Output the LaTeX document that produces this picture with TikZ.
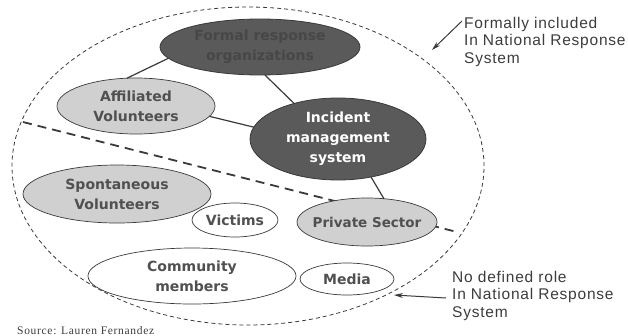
\documentclass[tikz,border=0pt]{standalone}
\usepackage{fontspec}
\setmainfont{Liberation Sans}
\newfontfamily\nodefont{DejaVu Sans}
\newfontfamily\sidefont{Liberation Sans}[LetterSpace=5]
\newfontfamily\srcfont{Liberation Serif}[LetterSpace=6]
\usetikzlibrary{shapes.geometric,arrows.meta}
\definecolor{darkfill}{HTML}{5A5A5A}
\definecolor{darktext}{HTML}{474747}
\definecolor{lightfill}{HTML}{D0D0D0}
\definecolor{lighttext}{HTML}{505050}
\definecolor{edgegray}{HTML}{3A3A3A}
\definecolor{labeltext}{HTML}{3C3C3C}
\tikzset{
  ell/.style={ellipse, inner sep=0pt, outer sep=0pt},
  darkell/.style={ell, fill=darkfill, draw=edgegray, line width=0.8pt},
  lightell/.style={ell, fill=lightfill, draw=edgegray, line width=0.7pt},
  whiteell/.style={ell, fill=white, draw=edgegray, line width=0.7pt},
  ntxt/.style={inner sep=0pt, align=center, font=\nodefont\bfseries\fontsize{14}{20}\selectfont},
  conn/.style={draw=edgegray, line width=1.2pt},
  side/.style={inner sep=0pt, align=left, anchor=north west, text=labeltext,
               font=\sidefont\fontsize{15.5}{17.5}\selectfont},
  pointer/.style={draw=edgegray, line width=1pt, -{Stealth[length=9pt,width=5pt]}},
}
\begin{document}
\begin{tikzpicture}[x=1pt,y=-1pt]
\useasboundingbox (0,0) rectangle (628,335);
\begin{scope}
\clip (0,0) rectangle (628,335);
% outer boundary
\node[ell, draw=edgegray, line width=0.8pt, dash pattern=on 4pt off 3pt,
      minimum width=472pt, minimum height=318pt] (outer) at (248,166) {};
% separator
\coordinate (s1) at (23,122);
\coordinate (s2) at (457,232);
\draw[draw=edgegray, line width=1.8pt, dash pattern=on 9pt off 6pt] (s1) -- (s2);

% ellipses
\node[darkell, minimum width=200pt, minimum height=56pt] (fro) at (260,47) {};
\node[lightell, minimum width=158pt, minimum height=56pt] (aff) at (136,106) {};
\node[darkell, minimum width=176pt, minimum height=82pt] (ims) at (338,139) {};
\node[lightell, minimum width=188pt, minimum height=58pt] (spv) at (117,194) {};
\node[whiteell, minimum width=86pt, minimum height=34pt] (vic) at (235,220) {};
\node[lightell, minimum width=140pt, minimum height=48pt] (prs) at (367,222) {};
\node[whiteell, minimum width=208pt, minimum height=56pt] (com) at (192,276) {};
\node[whiteell, minimum width=94pt, minimum height=32pt] (med) at (347,279) {};

% connectors
\draw[conn] (fro.187.6) -- (aff.108);
\draw[conn] (fro.-80) -- (ims.141);
\draw[conn] (aff.-8) -- (ims.172.5);
\draw[conn] (ims.-49.5) -- (prs.54);

% texts
\node[ntxt, text=darktext] (fro-t) at (fro) {Formal response\\organizations};
\node[ntxt, text=lighttext] (aff-t) at (aff) {Affiliated\\Volunteers};
\node[ntxt, text=white] (ims-t) at (ims) {Incident\\management\\system};
\node[ntxt, text=lighttext] (spv-t) at (spv) {Spontaneous\\Volunteers};
\node[ntxt, text=lighttext] (vic-t) at (vic) {Victims};
\node[ntxt, text=lighttext, font=\nodefont\bfseries\fontsize{13.5}{20}\selectfont] (prs-t) at (prs) {Private Sector};
\node[ntxt, text=lighttext] (com-t) at (com) {Community\\members};
\node[ntxt, text=lighttext] (med-t) at (med) {Media};

% side labels and pointers
\node[side] (lab1) at (464,17) {Formally included\\In National Response\\System};
\node[side] (lab2) at (452,271) {No defined role\\In National Response\\System};
\coordinate (a1s) at (462,21);
\coordinate (a1e) at (432,50);
\draw[pointer] (a1s) -- (a1e);
\coordinate (a2s) at (446,298);
\coordinate (a2e) at (394,295);
\draw[pointer] (a2s) -- (a2e);

% source
\node[anchor=base west, inner sep=0pt, text=labeltext,
      font=\srcfont\fontsize{11.5}{14}\selectfont] (src) at (17,334) {Source: Lauren Fernandez};
\end{scope}
\end{tikzpicture}
\end{document}
